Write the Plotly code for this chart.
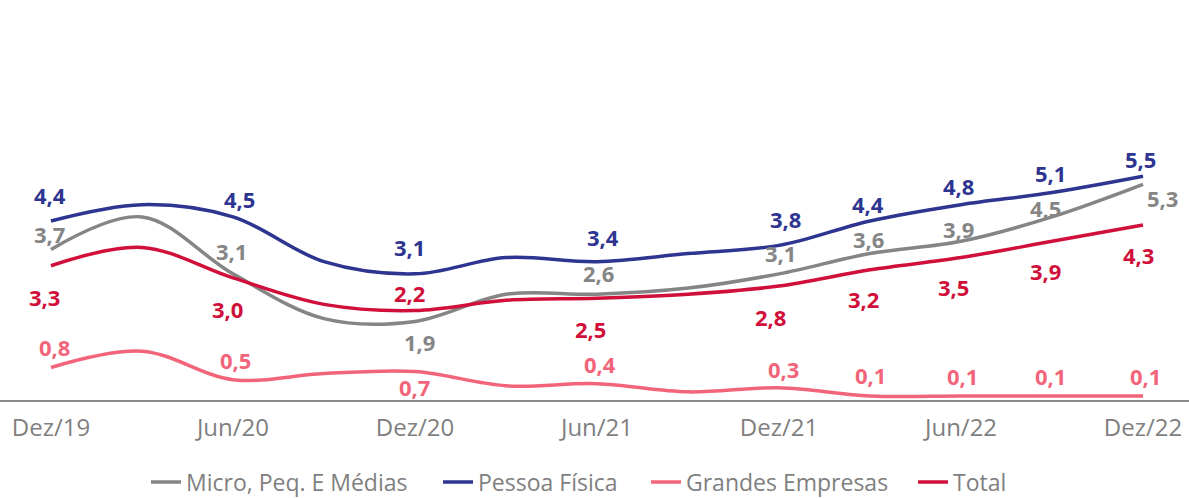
import plotly.graph_objects as go

# ---- data ----
quarters = ["Dez/19", "Mar/20", "Jun/20", "Set/20", "Dez/20", "Mar/21", "Jun/21",
            "Set/21", "Dez/21", "Mar/22", "Jun/22", "Set/22", "Dez/22"]
tick_labels = ["Dez/19", "Jun/20", "Dez/20", "Jun/21", "Dez/21", "Jun/22", "Dez/22"]

micro = [3.7, 4.5, 3.1, 2.0, 1.93, 2.6, 2.6, 2.75, 3.1, 3.6, 3.9, 4.5, 5.3]
pessoa_fisica = [4.4, 4.8, 4.5, 3.4, 3.1, 3.5, 3.4, 3.6, 3.8, 4.4, 4.8, 5.1, 5.5]
grandes = [0.8, 1.2, 0.5, 0.65, 0.7, 0.35, 0.4, 0.2, 0.3, 0.1, 0.1, 0.1, 0.1]
total = [3.3, 3.75, 3.0, 2.35, 2.2, 2.45, 2.5, 2.6, 2.8, 3.2, 3.5, 3.9, 4.3]

labeled_idx = [0, 2, 4, 6, 8, 9, 10, 11, 12]

# ---- styles ----
W, H = 1189, 498
series = [
    ("Micro, Peq. E Médias", micro, "#858585",
     [(-1, 15), (-1, 23), (5, -21), (1, 21), (1, 21), (-2, 15), (-3, 12), (-7, 9), (19, -14)], 146),
    ("Pessoa Física", pessoa_fisica, "#2E3590",
     [(-1, 26), (7, 18), (-5, 27), (6, 25), (6, 26), (-2, 17), (-3, 19), (-2, 19), (-3, 17)], 438),
    ("Grandes Empresas", grandes, "#F2647A",
     [(4, 20), (3, 20), (0, -15), (3, 20), (4, 19), (0, 21), (1, 20), (-2, 20), (2, 20)], 646),
    ("Total", total, "#D0103A",
     [(-6, -31), (-5, -31), (-5, 17), (-7, -31), (-9, -31), (-7, -29), (-8, -29), (-7, -30), (-5, -30)], 913),
]

fig = go.Figure()
annotations = []
legends = {}
for k, (name, vals, color, offsets, leg_x) in enumerate(series):
    leg_id = "legend" if k == 0 else f"legend{k + 1}"
    fig.add_trace(go.Scatter(
        x=quarters, y=vals, name=name, mode="lines",
        line=dict(color=color, width=3.5, shape="spline", smoothing=1.0),
        hoverinfo="skip", legend=leg_id,
    ))
    legends[leg_id] = dict(
        orientation="h", xref="container", yref="container",
        x=leg_x / W, xanchor="left", y=(H - 482) / H, yanchor="middle",
        font=dict(family="Open Sans", size=23, color="#7f7f7f"),
        itemwidth=30, bgcolor="rgba(0,0,0,0)",
    )
    for i, (dx, dy) in zip(labeled_idx, offsets):
        annotations.append(dict(
            x=quarters[i], y=vals[i], xref="x", yref="y",
            text=f"{vals[i]:.1f}".replace(".", ","),
            showarrow=False, xshift=dx, yshift=dy,
            font=dict(family="Open Sans", size=22, color=color, weight="bold"),
        ))

fig.update_layout(
    width=W, height=H,
    margin=dict(l=0, r=0, t=0, b=98, autoexpand=False),
    plot_bgcolor="white", paper_bgcolor="white",
    showlegend=True,
    annotations=annotations,
    **legends,
)
fig.update_xaxes(
    type="category", range=[-0.56, 12.505], automargin=False,
    tickmode="array", tickvals=tick_labels, ticktext=tick_labels,
    showgrid=False, zeroline=False,
    showline=True, linecolor="#8c8c8c", linewidth=2,
    ticks="", ticklabelstandoff=5,
    tickfont=dict(family="Open Sans", size=24, color="#7f7f7f"),
)
fig.update_yaxes(range=[0, 9.83], visible=False, showgrid=False, zeroline=False)

fig.write_html("out.html", config={"displayModeBar": False},
               post_script="document.body.style.margin='0';")
